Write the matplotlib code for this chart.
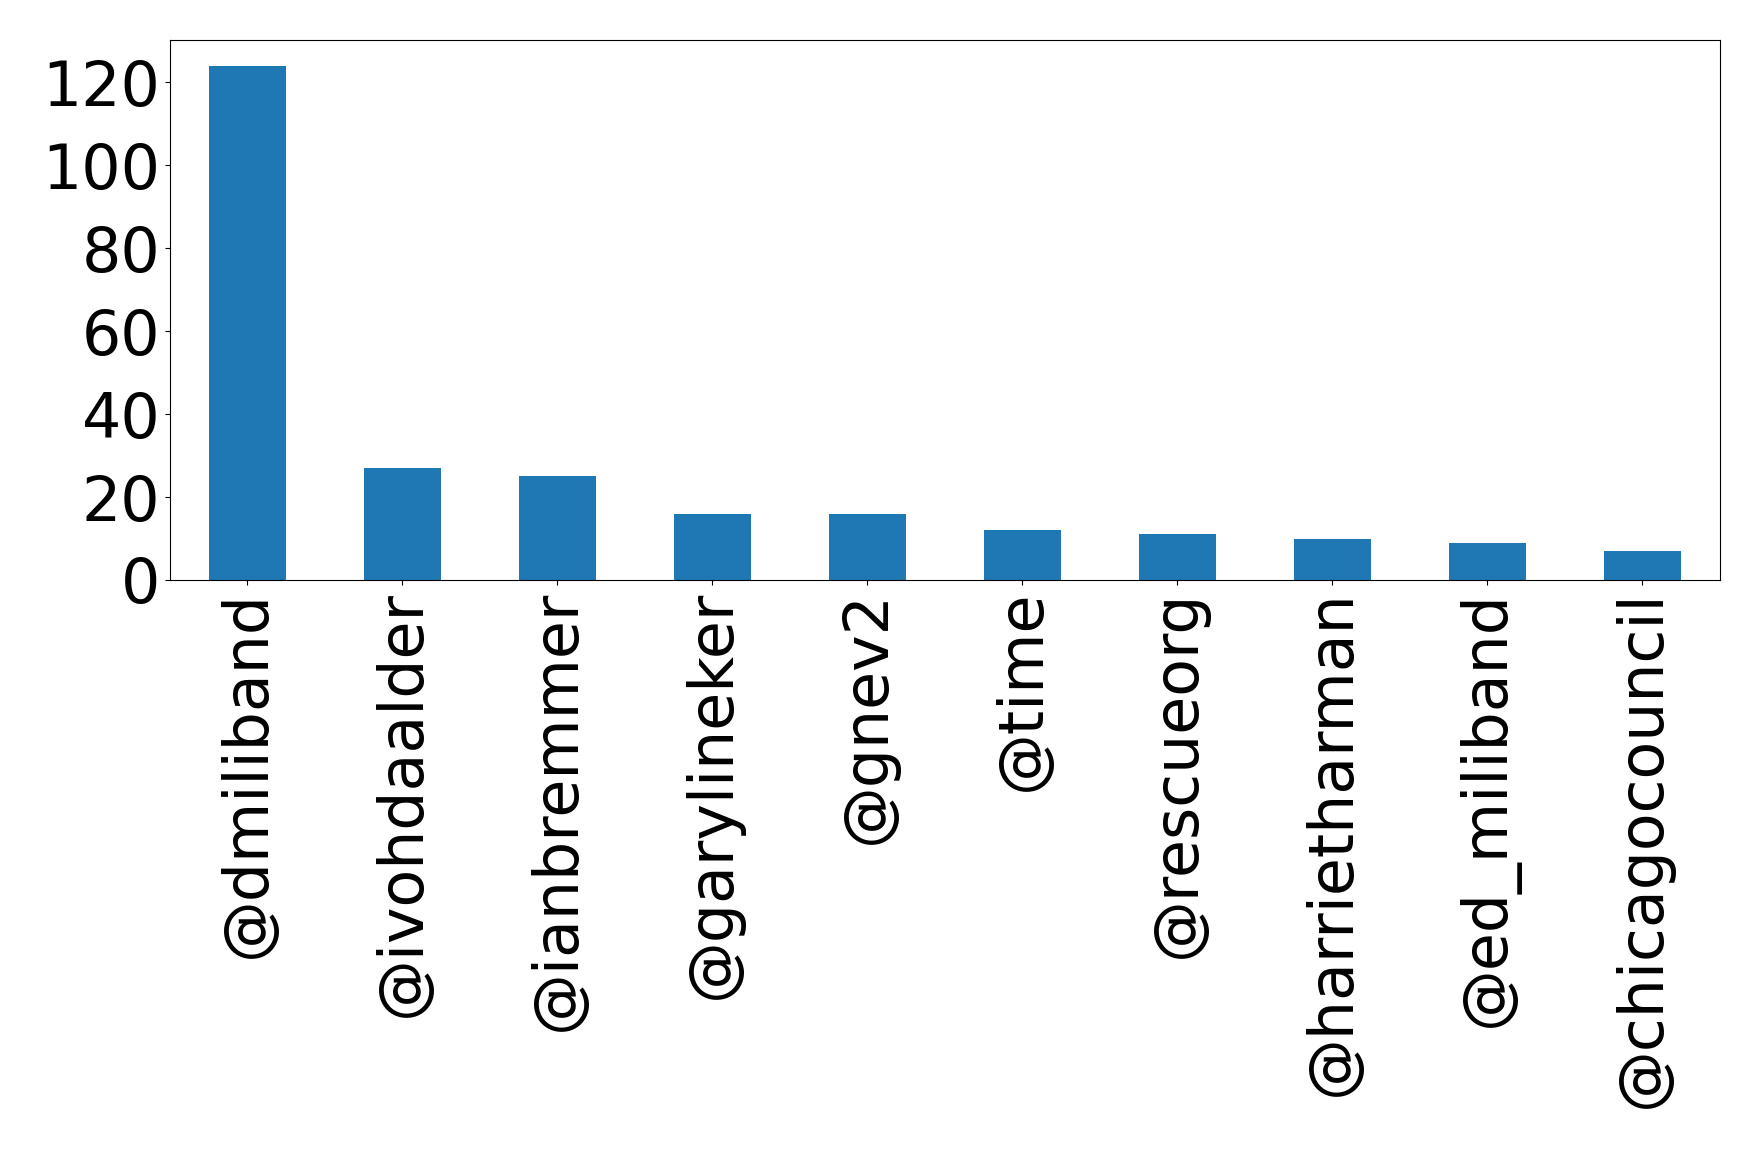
import matplotlib
matplotlib.use("Agg")
import matplotlib.pyplot as plt
import numpy as np

users = ["@dmiliband", "@ivohdaalder", "@ianbremmer", "@garylineker", "@gnev2",
         "@time", "@rescueorg", "@harrietharman", "@ed_miliband", "@chicagocouncil"]
counts = [124, 27, 25, 16, 16, 12, 11, 10, 9, 7]

fig = plt.figure(figsize=(17.58, 11.54), dpi=100)
ax = fig.add_axes([170/1758, 1 - 580/1154, (1727-170)/1758 - 0.004, (580-40)/1154])
x = np.arange(len(users))
ax.bar(x, counts, width=0.5, color="#1f77b4")
ax.set_xlim(-0.5, len(users) - 0.5)
ax.set_xticks(x)
ax.set_xticklabels(users, rotation=90, fontsize=44.5)
ax.tick_params(axis="y", labelsize=44.5)
ax.set_yticks([0, 20, 40, 60, 80, 100, 120])
fig.savefig("out.png", dpi=100)
